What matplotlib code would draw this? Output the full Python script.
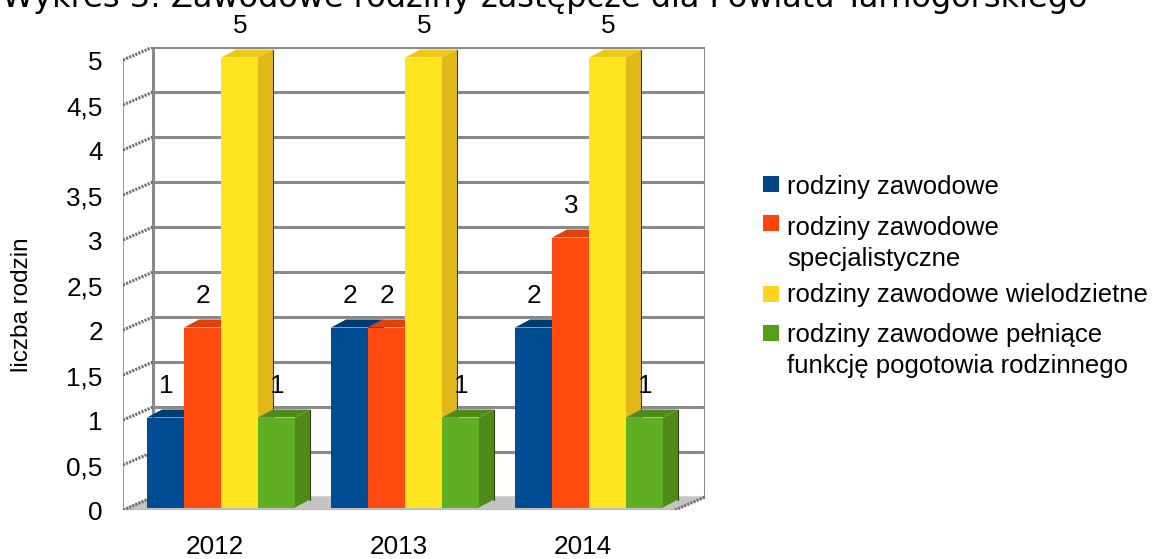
# -*- coding: utf-8 -*-

import matplotlib
matplotlib.use('Agg')
import matplotlib.pyplot as plt
import numpy as np

plt.rcParams['font.family'] = ['Liberation Sans', 'DejaVu Sans']

lata = ['2012', '2013', '2014']
zawodowe = [1, 2, 2]
specjalistyczne = [2, 2, 3]
wielodzietne = [5, 5, 5]
pogotowie = [1, 1, 1]
serie = [zawodowe, specjalistyczne, wielodzietne, pogotowie]
nazwy = ['rodziny zawodowe', 'rodziny zawodowe\nspecjalistyczne',
         'rodziny zawodowe wielodzietne',
         'rodziny zawodowe pełniące\nfunkcję pogotowia rodzinnego']
tick_y = [0, 0.5, 1, 1.5, 2, 2.5, 3, 3.5, 4, 4.5, 5]
tick_txt = ['0', '0,5', '1', '1,5', '2', '2,5', '3', '3,5', '4', '4,5', '5']

# front, side, top
kolory = [('#004c92', '#003b72', '#003b72'),
          ('#ff4a10', '#d93c0c', '#e0400c'),
          ('#ffe41f', '#e0b81a', '#efc81c'),
          ('#60ae22', '#4f8a18', '#4f8a18')]
legenda_kol = ['#004586', '#ff420e', '#ffd320', '#579d1c']

W, H = 1152, 559
fig = plt.figure(figsize=(W / 100, H / 100), dpi=100)

# axes = front plane of the chart + depth, 184 px per category, 90 px per unit
left, right, bottom, top = 123, 705, 510, 47
ax = fig.add_axes([left / W, 1 - bottom / H, (right - left) / W, (bottom - top) / H])
ax.set_xlim(-0.5, -0.5 + (right - left) / 184)
ax.set_ylim(0, (bottom - top) / 90)
ax.axis('off')

x_px = 1 / 184
y_px = 1 / 90
dx = 30 * x_px     # depth of the chart
dy = 13 * y_px
x0, x1 = -0.5, 2.5
siatka = '#8a8a8a'

# floor
ax.fill([x0, x1, x1 + dx, x0 + dx], [0, 0, dy, dy], color='#c4c4c4', zorder=1)
ax.plot([x0, x1], [0, 0], color='#b8b8b8', lw=1.5, zorder=1)

# back wall and side wall
for t in tick_y[1:]:
    ax.plot([x0 + dx, x1 + dx], [t + dy, t + dy], color=siatka, lw=2.2, zorder=1,
            solid_capstyle='butt')
ax.plot([x0 + dx, x0 + dx], [dy, 5 + dy], color=siatka, lw=2.2, zorder=1)
ax.plot([x1 + dx, x1 + dx], [dy, 5 + dy], color=siatka, lw=2.2, zorder=1)
ax.plot([x0, x0], [0, 5], color=siatka, lw=1.2, zorder=1)
for t in tick_y:
    ax.plot([x0, x0 + dx], [t, t + dy], color='#707070', lw=2.2, zorder=1,
            ls=(0, (0.7, 0.4)))
ax.plot([x1, x1 + dx], [0, dy], color='#707070', lw=2.2, zorder=1, ls=(0, (0.7, 0.4)))

# bars
szer = 37 * x_px
bar_dx = 15 * x_px
bar_dy = 8 * y_px
shift_x = 6 * x_px
shift_y = 2.5 * y_px
z = 2
for g in range(len(lata)):
    for s, seria in enumerate(serie):
        v = seria[g]
        xl = g + shift_x + (s - 2) * szer
        xr = xl + szer
        front, side, topc = kolory[s]
        ax.fill([xr, xr + bar_dx, xr + bar_dx, xr],
                [shift_y, shift_y + bar_dy, v + shift_y + bar_dy, v + shift_y],
                color=side, lw=0, zorder=z)
        ax.plot([xr + bar_dx, xr + bar_dx], [shift_y + bar_dy, v + shift_y + bar_dy],
                color='#3c3c10', lw=0.8, zorder=z)
        ax.fill([xl, xr, xr + bar_dx, xl + bar_dx],
                [v + shift_y, v + shift_y, v + shift_y + bar_dy, v + shift_y + bar_dy],
                color=topc, lw=0, zorder=z)
        ax.bar(xl, v, width=szer, bottom=shift_y, align='edge', color=front, lw=0,
               zorder=z + 0.5)
        ax.annotate(str(v), (xl + szer / 2, v + shift_y), xytext=(0.5, 23),
                    textcoords='offset points', ha='center', va='center',
                    fontsize=18.8, color='black', zorder=50, annotation_clip=False)
        z += 1

# tick labels
for t, txt in zip(tick_y, tick_txt):
    ax.annotate(txt, (x0, t), xytext=(-14.5, -2.3), textcoords='offset points',
                ha='right', va='center', fontsize=18.8, annotation_clip=False)
for g, rok in enumerate(lata):
    ax.annotate(rok, (g, 0), xytext=(0, -27), textcoords='offset points',
                ha='center', va='center', fontsize=18.8, annotation_clip=False)

fig.text(22 / W, 1 - 305 / H, 'liczba rodzin', rotation=90, ha='center', va='center',
         fontsize=17.5)

# legend
wiersze_y = [184, 223, 294, 333]
tekst_y = [175, 216, 283, 323]
for kol, nazwa, wy, ty in zip(legenda_kol, nazwy, wiersze_y, tekst_y):
    fig.patches.append(plt.Rectangle((763 / W, 1 - (wy + 8) / H), 15.5 / W, 16 / H,
                                     transform=fig.transFigure, color=kol, lw=0))
    fig.text(787 / W, 1 - ty / H, nazwa, ha='left', va='top', fontsize=18.5,
             linespacing=1.36)

fig.text(1088 / W, 1 - 7 / H,
         'Wykres 3: Zawodowe rodziny zastępcze dla Powiatu Tarnogórskiego',
         ha='right', va='baseline', fontsize=23, family='DejaVu Sans')

fig.savefig('out.png', dpi=100)
